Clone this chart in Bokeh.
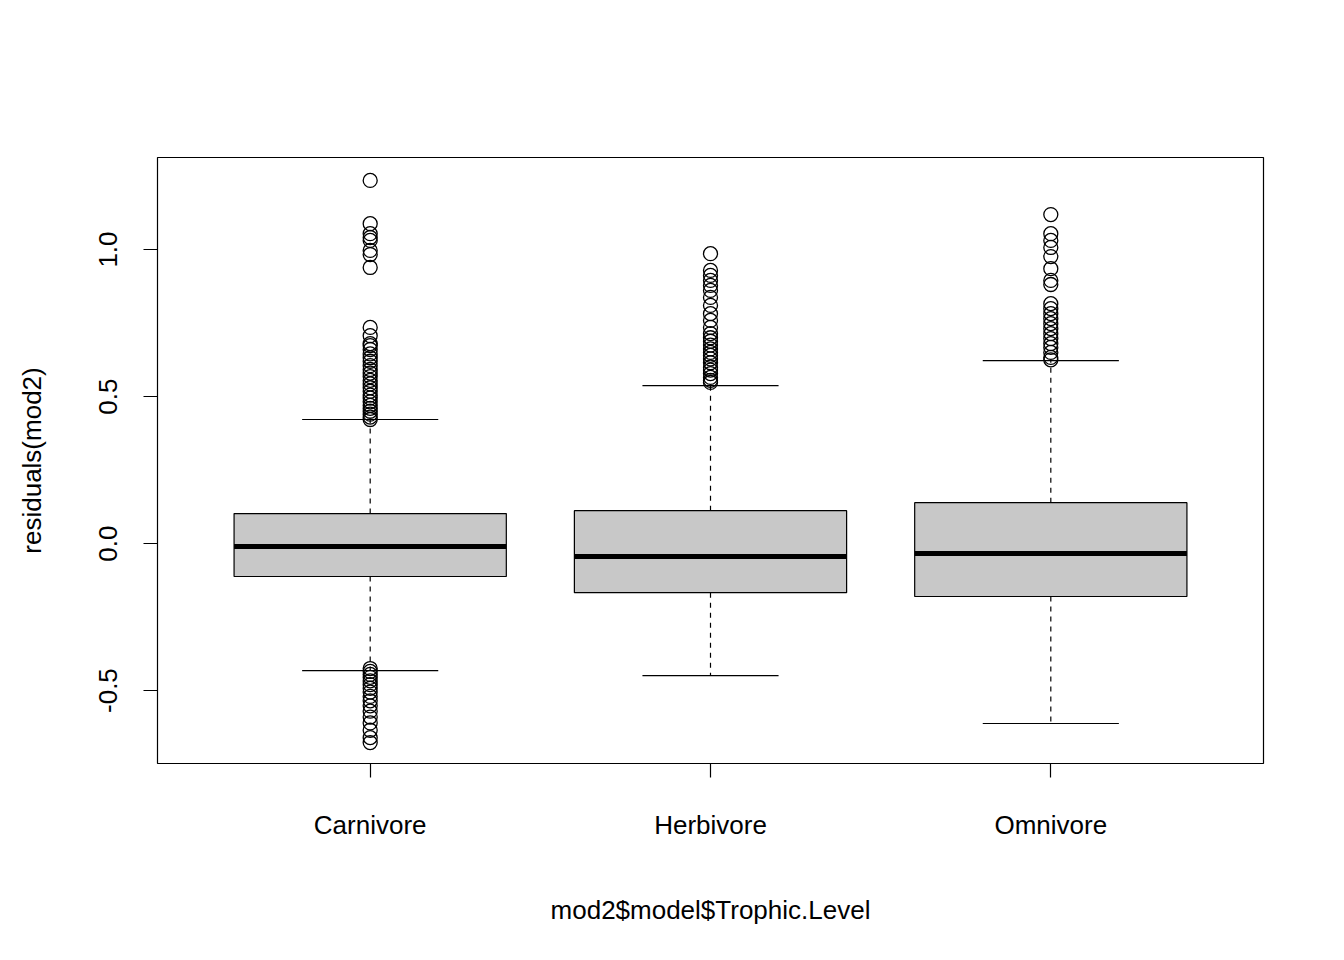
from bokeh.plotting import figure
from bokeh.models import FixedTicker, Range1d
from bokeh.embed import file_html
from bokeh.resources import INLINE

categories = ["Carnivore", "Herbivore", "Omnivore"]
xpos = [1, 2, 3]
q1 = [-0.112, -0.167, -0.180]
med = [-0.010, -0.044, -0.034]
q3 = [0.102, 0.112, 0.139]
wlo = [-0.432, -0.449, -0.612]
whi = [0.422, 0.537, 0.622]

out_carn = [1.235, 1.088, 1.054, 1.041, 1.031, 0.997, 0.983, 0.939, 0.735, 0.707, 0.680,
            0.673, 0.660, 0.645, 0.632, 0.620, 0.605, 0.592, 0.580, 0.568, 0.555, 0.543,
            0.530, 0.518, 0.505, 0.495, 0.482, 0.470, 0.460, 0.450, 0.440, 0.430, 0.422,
            -0.425, -0.435, -0.445, -0.455, -0.467, -0.480, -0.492, -0.505, -0.520,
            -0.535, -0.552, -0.570, -0.590, -0.610, -0.635, -0.660, -0.677]
out_herb = [0.986, 0.929, 0.912, 0.895, 0.878, 0.861, 0.837, 0.810, 0.782, 0.759, 0.735,
            0.714, 0.700, 0.688, 0.675, 0.662, 0.650, 0.640, 0.628, 0.615, 0.600, 0.590,
            0.578, 0.565, 0.555, 0.548]
out_omni = [1.119, 1.054, 1.031, 1.007, 0.976, 0.935, 0.895, 0.881, 0.816, 0.799, 0.782,
            0.765, 0.748, 0.731, 0.714, 0.697, 0.680, 0.667, 0.650, 0.633, 0.625]
outliers = [out_carn, out_herb, out_omni]

FONT = "Liberation Sans"
p = figure(frame_width=1106, frame_height=606, width=1336, height=952,
           min_border_left=157, min_border_top=157, min_border_bottom=189, min_border_right=73,
           output_backend="svg", toolbar_location=None,
           x_range=Range1d(0.375, 3.625), y_range=Range1d(-0.748, 1.313))
p.xgrid.visible = False
p.ygrid.visible = False
p.outline_line_color = "black"
p.outline_line_width = 1.2
p.background_fill_color = "white"
p.border_fill_color = "white"

p.segment(x0=xpos, y0=q3, x1=xpos, y1=whi, line_color="black", line_dash="5 5", line_width=1.2)
p.segment(x0=xpos, y0=q1, x1=xpos, y1=wlo, line_color="black", line_dash="5 5", line_width=1.2)
xl = [x - 0.2 for x in xpos]
xr = [x + 0.2 for x in xpos]
p.segment(x0=xl, y0=whi, x1=xr, y1=whi, line_color="black", line_width=1.2)
p.segment(x0=xl, y0=wlo, x1=xr, y1=wlo, line_color="black", line_width=1.2)
p.vbar(x=xpos, width=0.8, bottom=q1, top=q3, fill_color="#c8c8c8", line_color="black", line_width=1.2)
p.segment(x0=[x - 0.4 for x in xpos], y0=med, x1=[x + 0.4 for x in xpos], y1=med,
          line_color="black", line_width=5)
for x, ys in zip(xpos, outliers):
    p.scatter(x=[x] * len(ys), y=ys, size=14, fill_color=None, line_color="black", line_width=1.3)

p.xaxis.ticker = FixedTicker(ticks=xpos)
p.xaxis.major_label_overrides = {x: c for x, c in zip(xpos, categories)}
p.yaxis.ticker = FixedTicker(ticks=[-0.5, 0.0, 0.5, 1.0])
p.yaxis.major_label_overrides = {-0.5: "-0.5", 0: "0.0", 0.5: "0.5", 1: "1.0"}
p.yaxis.major_label_orientation = "vertical"
for ax in (p.xaxis[0], p.yaxis[0]):
    ax.axis_line_color = None
    ax.minor_tick_line_color = None
    ax.major_tick_out = 14
    ax.major_tick_in = 0
    ax.major_tick_line_color = "black"
    ax.major_tick_line_width = 1.2
    ax.major_label_text_font = FONT
    ax.major_label_text_font_size = "26px"
    ax.major_label_text_color = "black"
    ax.axis_label_text_font = FONT
    ax.axis_label_text_font_size = "26px"
    ax.axis_label_text_font_style = "normal"
    ax.axis_label_text_color = "black"
p.xaxis.major_label_standoff = 32
p.yaxis.major_label_standoff = 26
p.xaxis.axis_label = "mod2$model$Trophic.Level"
p.yaxis.axis_label = "residuals(mod2)"
p.xaxis.axis_label_standoff = 52
p.yaxis.axis_label_standoff = 50

open("out.html", "w").write(file_html(p, INLINE))
